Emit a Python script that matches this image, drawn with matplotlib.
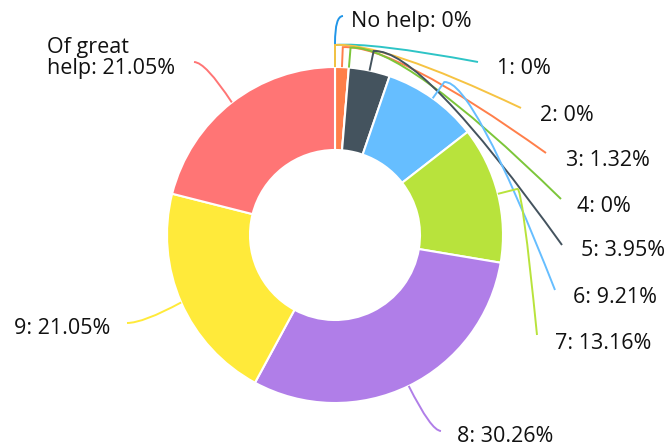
import numpy as np
import matplotlib
matplotlib.use("Agg")
import matplotlib.pyplot as plt
from matplotlib.path import Path
from matplotlib.patches import PathPatch

# ---- data ----
categories = ["No help", "1", "2", "3", "4", "5", "6", "7", "8", "9", "Of great help"]
values = [0.0, 0.0, 0.0, 1.32, 0.0, 3.95, 9.21, 13.16, 30.26, 21.05, 21.05]
slice_colors = ["#2196E8", "#2EC4C6", "#F6C343", "#FF7F4A", "#7CC63A", "#44535E",
                "#66BEFF", "#B8E33C", "#B07EE8", "#FFEA3A", "#FF7575"]
label_texts = ["No help: 0%", "1: 0%", "2: 0%", "3: 1.32%", "4: 0%", "5: 3.95%",
               "6: 9.21%", "7: 13.16%", "8: 30.26%", "9: 21.05%", "Of great\nhelp: 21.05%"]

# ---- layout (pixel coords, y from top) ----
W, H = 666, 448
CX, CY, R, RIN = 335, 235, 168, 85
label_pos = [(351, 21), (497, 68), (540, 115), (566, 160), (577, 206), (581, 250),
             (573, 297), (555, 343), (457, 436), (110, 328), (47, 58)]
label_ha = ["left"] * 9 + ["right", "left"]
line_end = [(343, 16), (478, 62), (521, 108), (546, 153), (561, 199), (562, 245),
            (555, 290), (537, 335), (441, 431), (127, 323), (194, 62)]
radial_ext = [24, 22, 22, 20, 20, 20, 20, 20, 0, 0, 0]

fig = plt.figure(figsize=(W / 100, H / 100), dpi=100)
ax = fig.add_axes([0, 0, 1, 1])
ax.pie(values, colors=slice_colors, startangle=90, counterclock=False,
       center=(CX, H - CY), radius=R,
       wedgeprops=dict(width=R - RIN, edgecolor="white", linewidth=1.5))
ax.set_xlim(0, W)
ax.set_ylim(0, H)
ax.set_aspect("equal")
ax.axis("off")

def to_plot(p):
    return (p[0], H - p[1])

total = sum(values)
cum = np.concatenate([[0], np.cumsum(values)])
for i, v in enumerate(values):
    frac = (cum[i] + 0.5 * v) / total
    ang = 2 * np.pi * frac
    d = np.array([np.sin(ang), -np.cos(ang)])
    p1 = np.array([CX, CY]) + R * d
    knee = np.array([CX, CY]) + (R + radial_ext[i]) * d
    end = np.array(line_end[i], dtype=float)
    if radial_ext[i] > 0:
        if i == 0:
            ctrl = np.array([knee[0], end[1]])
        else:
            ctrl = knee + np.array([0.25 * (end[0] - knee[0]), -3])
        verts = [p1, knee, ctrl, end]
        codes = [Path.MOVETO, Path.LINETO, Path.CURVE3, Path.CURVE3]
    else:
        ctrl = np.array([p1[0] + 0.7 * (end[0] - p1[0]), end[1]])
        verts = [p1, ctrl, end]
        codes = [Path.MOVETO, Path.CURVE3, Path.CURVE3]
    verts = [to_plot(p) for p in verts]
    ax.add_patch(PathPatch(Path(verts, codes), fill=False,
                           edgecolor=slice_colors[i], linewidth=1.4, zorder=3))
    lx, ly = to_plot(label_pos[i])
    ax.text(lx, ly, label_texts[i], ha=label_ha[i], va="center", fontsize=15.5,
            family=["Open Sans", "DejaVu Sans"], color="#111111",
            linespacing=1.0, zorder=4)

fig.savefig("out.png", dpi=100, facecolor="white")
